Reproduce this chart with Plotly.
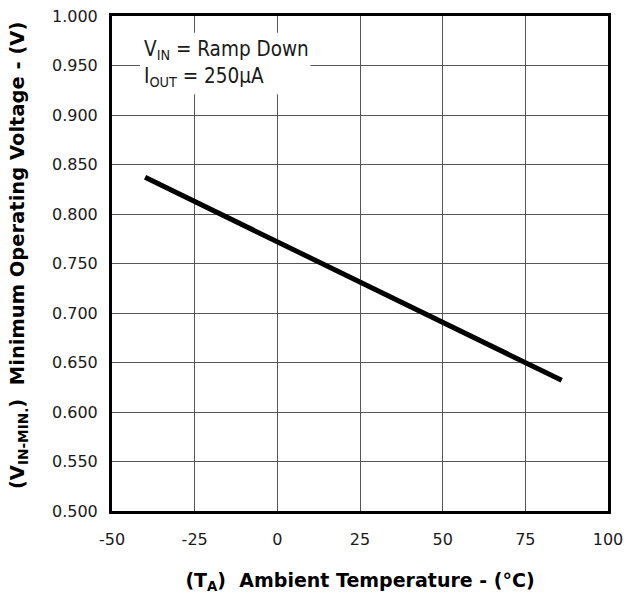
import plotly.graph_objects as go

# Data
temp_c = [-40, 0, 25, 86]
vin_min_v = [0.837, 0.772, 0.731, 0.632]
x_tick_vals = [-50, -25, 0, 25, 50, 75, 100]
x_tick_text = ["-50", "-25", "0", "25", "50", "75", "100"]
y_tick_vals = [0.500, 0.550, 0.600, 0.650, 0.700, 0.750, 0.800, 0.850, 0.900, 0.950, 1.000]
y_tick_text = ["0.500", "0.550", "0.600", "0.650", "0.700", "0.750",
               "0.800", "0.850", "0.900", "0.950", "1.000"]
note_lines = ["V<sub>IN</sub> = Ramp Down", "I<sub>OUT</sub> = 250µA"]
x_title = "<b>(T<sub>A</sub>)  Ambient Temperature - (°C)</b>"
y_title = "<b>(V<sub>IN-MIN.</sub>)  Minimum Operating Voltage - (V)</b>"

FONT = "DejaVu Sans, sans-serif"
NOTE_FONT = "DejaVu Sans Condensed, DejaVu Sans, sans-serif"
GRID = "#555555"

fig = go.Figure()
fig.add_trace(go.Scatter(
    x=temp_c, y=vin_min_v, mode="lines",
    line=dict(color="black", width=5),
    showlegend=False, hoverinfo="skip",
))

fig.update_layout(
    width=624, height=602,
    margin=dict(l=112, r=16, t=16, b=91),
    paper_bgcolor="white", plot_bgcolor="white",
    font=dict(family=FONT, color="#1a1a1a", size=16),
    xaxis=dict(
        range=[-50, 100], tickvals=x_tick_vals, ticktext=x_tick_text, ticks="",
        ticklabelstandoff=12, automargin=False,
        showgrid=True, gridcolor=GRID, gridwidth=1, zeroline=False,
        showline=True, linecolor="black", linewidth=3, mirror=True,
        tickfont=dict(size=16, family=FONT),
        title=dict(text=x_title,
                   font=dict(size=19, family=FONT, color="black"), standoff=26),
    ),
    yaxis=dict(
        range=[0.5, 1.0], tickvals=y_tick_vals, ticktext=y_tick_text, ticks="",
        ticklabelstandoff=8, automargin=False,
        showgrid=True, gridcolor=GRID, gridwidth=1, zeroline=False,
        showline=True, linecolor="black", linewidth=3, mirror=True,
        tickfont=dict(size=16, family=FONT),
    ),
)

# y-axis title placed as a rotated annotation (slightly above centre, as in the reference)
fig.add_annotation(x=-0.1895, y=0.515, xref="paper", yref="paper",
                   xanchor="center", yanchor="middle", textangle=-90,
                   text=y_title, showarrow=False,
                   font=dict(size=19.5, family=FONT, color="black"))

# white box behind the condition note (hides gridlines)
fig.add_shape(type="rect", xref="x", yref="y",
              x0=-41.5, x1=10, y0=0.921, y1=0.983,
              fillcolor="white", line=dict(width=0), layer="between")

fig.add_annotation(x=-41, y=0.966, xref="x", yref="y", xanchor="left", yanchor="middle",
                   text=note_lines[0], showarrow=False,
                   font=dict(size=20.5, family=NOTE_FONT, color="#1a1a1a"))
fig.add_annotation(x=-41, y=0.938, xref="x", yref="y", xanchor="left", yanchor="middle",
                   text=note_lines[1], showarrow=False,
                   font=dict(size=20.5, family=NOTE_FONT, color="#1a1a1a"))

# remove the default page margin so the figure sits at the window's top-left corner
fig.write_html("out.html",
               config={"displayModeBar": False},
               post_script="document.body.style.margin='0';document.body.style.overflow='hidden';")
